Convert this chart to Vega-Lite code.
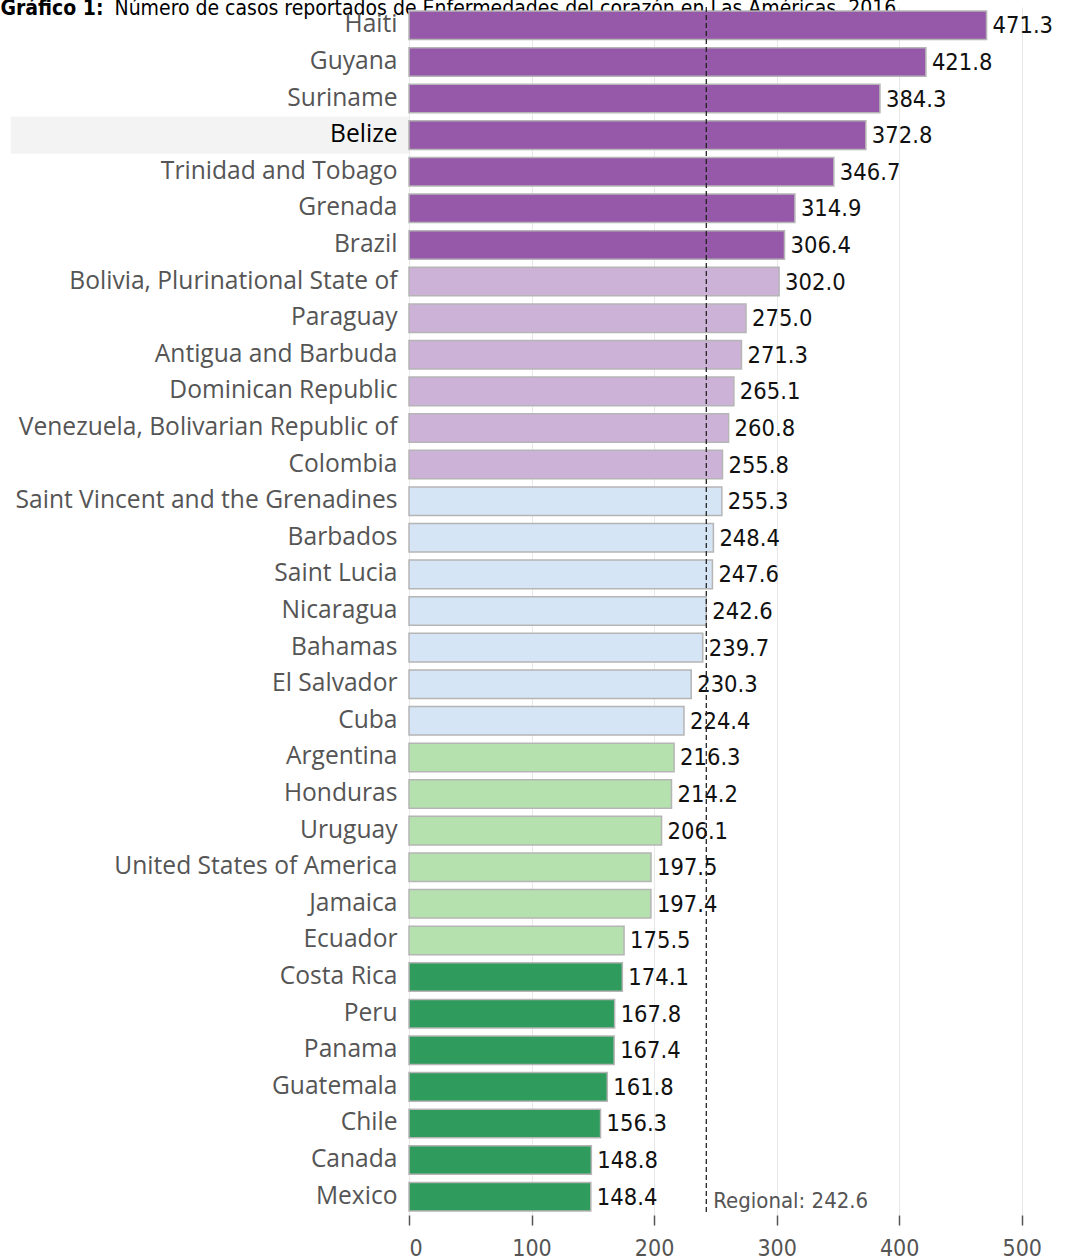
{
  "$schema": "https://vega.github.io/schema/vega-lite/v6.json",
  "autosize": "none",
  "padding": {"left": 409, "top": 7, "right": 7, "bottom": 45},
  "width": 674,
  "height": 1208,
  "background": "white",
  "datasets": {
    "rates": [
      {"country": "Haiti", "value": 471.3, "group": "g1"},
      {"country": "Guyana", "value": 421.8, "group": "g1"},
      {"country": "Suriname", "value": 384.3, "group": "g1"},
      {"country": "Belize", "value": 372.8, "group": "g1"},
      {"country": "Trinidad and Tobago", "value": 346.7, "group": "g1"},
      {"country": "Grenada", "value": 314.9, "group": "g1"},
      {"country": "Brazil", "value": 306.4, "group": "g1"},
      {"country": "Bolivia, Plurinational State of", "value": 302.0, "group": "g2"},
      {"country": "Paraguay", "value": 275.0, "group": "g2"},
      {"country": "Antigua and Barbuda", "value": 271.3, "group": "g2"},
      {"country": "Dominican Republic", "value": 265.1, "group": "g2"},
      {"country": "Venezuela, Bolivarian Republic of", "value": 260.8, "group": "g2"},
      {"country": "Colombia", "value": 255.8, "group": "g2"},
      {"country": "Saint Vincent and the Grenadines", "value": 255.3, "group": "g3"},
      {"country": "Barbados", "value": 248.4, "group": "g3"},
      {"country": "Saint Lucia", "value": 247.6, "group": "g3"},
      {"country": "Nicaragua", "value": 242.6, "group": "g3"},
      {"country": "Bahamas", "value": 239.7, "group": "g3"},
      {"country": "El Salvador", "value": 230.3, "group": "g3"},
      {"country": "Cuba", "value": 224.4, "group": "g3"},
      {"country": "Argentina", "value": 216.3, "group": "g4"},
      {"country": "Honduras", "value": 214.2, "group": "g4"},
      {"country": "Uruguay", "value": 206.1, "group": "g4"},
      {"country": "United States of America", "value": 197.5, "group": "g4"},
      {"country": "Jamaica", "value": 197.4, "group": "g4"},
      {"country": "Ecuador", "value": 175.5, "group": "g4"},
      {"country": "Costa Rica", "value": 174.1, "group": "g5"},
      {"country": "Peru", "value": 167.8, "group": "g5"},
      {"country": "Panama", "value": 167.4, "group": "g5"},
      {"country": "Guatemala", "value": 161.8, "group": "g5"},
      {"country": "Chile", "value": 156.3, "group": "g5"},
      {"country": "Canada", "value": 148.8, "group": "g5"},
      {"country": "Mexico", "value": 148.4, "group": "g5"}
    ],
    "regional": [
      {"regional": 242.6, "label": "Regional: 242.6", "at": "Mexico"}
    ],
    "highlight": [
      {"country": "Belize"}
    ]
  },
  "data": {"name": "rates"},
  "layer": [
    {
      "data": {"name": "highlight"},
      "mark": {"type": "bar", "color": "#f3f3f3", "height": {"band": 1.3}},
      "encoding": {
        "x": {"datum": -325, "type": "quantitative"},
        "x2": {"datum": 0},
        "y": {"field": "country", "type": "nominal", "sort": null}
      }
    },
    {
      "mark": {"type": "bar", "stroke": "#b5b5b5", "strokeWidth": 1.5},
      "encoding": {
        "y": {
          "field": "country",
          "type": "nominal",
          "sort": null,
          "scale": {
            "domain": ["Haiti", "Guyana", "Suriname", "Belize", "Trinidad and Tobago", "Grenada", "Brazil", "Bolivia, Plurinational State of", "Paraguay", "Antigua and Barbuda", "Dominican Republic", "Venezuela, Bolivarian Republic of", "Colombia", "Saint Vincent and the Grenadines", "Barbados", "Saint Lucia", "Nicaragua", "Bahamas", "El Salvador", "Cuba", "Argentina", "Honduras", "Uruguay", "United States of America", "Jamaica", "Ecuador", "Costa Rica", "Peru", "Panama", "Guatemala", "Chile", "Canada", "Mexico"],
            "paddingInner": 0.22,
            "paddingOuter": 0.11
          },
          "axis": {
            "title": "Gráfico 1:",
            "titleAngle": 0,
            "titleAlign": "left",
            "titleBaseline": "alphabetic",
            "titleX": -409,
            "titleY": 7.5,
            "titleFont": "DejaVu Sans Condensed",
            "titleFontSize": 21,
            "titleFontWeight": "bold",
            "titleColor": "#000000",
            "domain": false,
            "ticks": false,
            "labelPadding": 12,
            "labelFont": "Open Sans",
            "labelFontSize": 24.6,
            "labelColor": {"condition": {"test": "datum.value === 'Belize'", "value": "#000000"}, "value": "#555555"},
            "labelLimit": 500,
            "zindex": 1
          }
        },
        "x": {
          "field": "value",
          "type": "quantitative",
          "scale": {"domain": [0, 550], "nice": false, "zero": true},
          "axis": {
            "title": "Número de casos reportados de Enfermedades del corazón en Las Américas. 2016",
            "titleX": -295,
            "titleY": -1200.5,
            "titleAlign": "left",
            "titleAnchor": null,
            "titleBaseline": "alphabetic",
            "titleFont": "DejaVu Sans Condensed",
            "titleFontSize": 21,
            "titleFontWeight": "normal",
            "titleColor": "#000000",
            "titleLimit": 1200,
            "values": [0, 100, 200, 300, 400, 500],
            "domain": false,
            "ticks": true,
            "tickColor": "#555555",
            "tickSize": 10,
            "tickWidth": 1.5,
            "labelPadding": 12,
            "labelFont": "DejaVu Sans Condensed",
            "labelFontSize": 23,
            "labelColor": "#555555",
            "grid": true,
            "gridColor": "#e8e8e8",
            "gridWidth": 1,
            "zindex": 0
          }
        },
        "color": {
          "field": "group",
          "type": "nominal",
          "scale": {
            "domain": ["g1", "g2", "g3", "g4", "g5"],
            "range": ["#9658a8", "#cdb2d8", "#d5e5f5", "#b5e1ae", "#2f9b5d"]
          },
          "legend": null
        }
      }
    },
    {
      "mark": {"type": "text", "align": "left", "baseline": "middle", "dx": 6, "dy": 1, "font": "DejaVu Sans Condensed", "fontSize": 23.5, "color": "#111111"},
      "encoding": {
        "y": {"field": "country", "type": "nominal", "sort": null},
        "x": {"field": "value", "type": "quantitative"},
        "text": {"field": "value", "type": "quantitative", "format": ".1f"}
      }
    },
    {
      "data": {"name": "regional"},
      "mark": {"type": "rule", "color": "#222222", "strokeDash": [5, 3], "strokeWidth": 1.3},
      "encoding": {
        "x": {"field": "regional", "type": "quantitative"}
      }
    },
    {
      "data": {"name": "regional"},
      "mark": {"type": "text", "align": "left", "baseline": "middle", "dx": 7, "dy": 4, "font": "DejaVu Sans Condensed", "fontSize": 22, "color": "#555555"},
      "encoding": {
        "x": {"field": "regional", "type": "quantitative"},
        "y": {"field": "at", "type": "nominal", "sort": null},
        "text": {"field": "label"}
      }
    }
  ],
  "config": {"view": {"stroke": null}}
}
